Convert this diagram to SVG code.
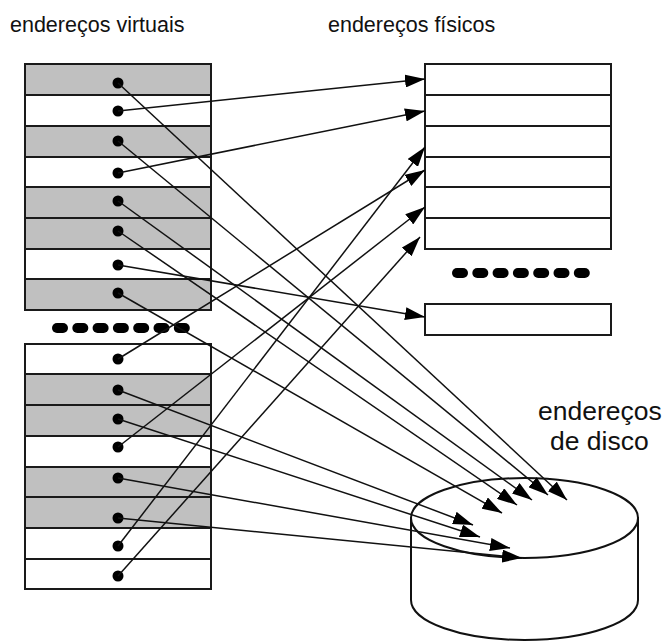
<svg xmlns="http://www.w3.org/2000/svg" width="666" height="641" viewBox="0 0 666 641">
<style>
.title{font-family:"Liberation Sans",Arial,sans-serif;font-size:21.5px;fill:#111}
.disklbl{font-family:"Liberation Sans",Arial,sans-serif;font-size:26.5px;fill:#111}
.cell{stroke:#1a1a1a;stroke-width:2}
.g{fill:#c0c0c0}
.w{fill:#fff}
.dot{fill:#000}
.dash{fill:#000}
.conn line{stroke:#111;stroke-width:1.5;marker-end:url(#ah)}
.disk{fill:#fff;stroke:#111;stroke-width:2}
</style>
<defs>
<marker id="ah" markerUnits="userSpaceOnUse" markerWidth="20" markerHeight="13" refX="20" refY="6.5" orient="auto">
<path d="M0,0 L20,6.5 L0,13 z" fill="#000"/>
</marker>
<g id="dashes">
<rect x="0" y="-5" width="16" height="10" rx="5"/>
<rect x="20.3" y="-5" width="16" height="10" rx="5"/>
<rect x="40.6" y="-5" width="16" height="10" rx="5"/>
<rect x="60.9" y="-5" width="16" height="10" rx="5"/>
<rect x="81.2" y="-5" width="16" height="10" rx="5"/>
<rect x="101.5" y="-5" width="16" height="10" rx="5"/>
<rect x="121.8" y="-5" width="16" height="10" rx="5"/>
</g>
</defs>
<rect width="666" height="641" fill="#fff"/>
<text class="title" x="10" y="32">endereços virtuais</text>
<text class="title" x="328" y="32">endereços físicos</text>

<g id="virtual-top">
<rect class="cell g" x="25" y="64" width="186" height="31"/>
<rect class="cell w" x="25" y="95" width="186" height="31"/>
<rect class="cell g" x="25" y="126" width="186" height="31"/>
<rect class="cell w" x="25" y="157" width="186" height="30"/>
<rect class="cell g" x="25" y="187" width="186" height="31"/>
<rect class="cell g" x="25" y="218" width="186" height="31"/>
<rect class="cell w" x="25" y="249" width="186" height="30"/>
<rect class="cell g" x="25" y="279" width="186" height="31"/>
<circle class="dot" cx="118" cy="83" r="5.5"/>
<circle class="dot" cx="118" cy="111" r="5.5"/>
<circle class="dot" cx="118" cy="141" r="5.5"/>
<circle class="dot" cx="118" cy="173" r="5.5"/>
<circle class="dot" cx="118" cy="201" r="5.5"/>
<circle class="dot" cx="118" cy="231" r="5.5"/>
<circle class="dot" cx="118" cy="265" r="5.5"/>
<circle class="dot" cx="118" cy="293" r="5.5"/>
</g>

<g id="virtual-dots" class="dash"><use href="#dashes" x="52" y="328"/></g>

<g id="virtual-bottom">
<rect class="cell w" x="25" y="344" width="186" height="30"/>
<rect class="cell g" x="25" y="374" width="186" height="31"/>
<rect class="cell g" x="25" y="405" width="186" height="31"/>
<rect class="cell w" x="25" y="436" width="186" height="31"/>
<rect class="cell g" x="25" y="467" width="186" height="30"/>
<rect class="cell g" x="25" y="497" width="186" height="31"/>
<rect class="cell w" x="25" y="528" width="186" height="31"/>
<rect class="cell w" x="25" y="559" width="186" height="30"/>
<circle class="dot" cx="118" cy="359" r="5.5"/>
<circle class="dot" cx="118" cy="390" r="5.5"/>
<circle class="dot" cx="118" cy="419" r="5.5"/>
<circle class="dot" cx="118" cy="447" r="5.5"/>
<circle class="dot" cx="118" cy="478" r="5.5"/>
<circle class="dot" cx="118" cy="518" r="5.5"/>
<circle class="dot" cx="118" cy="546" r="5.5"/>
<circle class="dot" cx="118" cy="576" r="5.5"/>
</g>

<g id="physical">
<rect class="cell w" x="425" y="64" width="186" height="31"/>
<rect class="cell w" x="425" y="95" width="186" height="31"/>
<rect class="cell w" x="425" y="126" width="186" height="31"/>
<rect class="cell w" x="425" y="157" width="186" height="30"/>
<rect class="cell w" x="425" y="187" width="186" height="31"/>
<rect class="cell w" x="425" y="218" width="186" height="31"/>
</g>
<g id="physical-dots" class="dash"><use href="#dashes" x="452" y="273"/></g>
<g id="physical-last">
<rect class="cell w" x="425" y="304" width="186" height="31"/>
</g>

<g id="disk">
<path class="disk" d="M411,518 L411,600 A113.5,40 0 0 0 638,600 L638,518 Z"/>
<ellipse class="disk" cx="524.5" cy="518" rx="113.5" ry="40"/>
<text class="disklbl" x="538" y="420">endereços</text>
<text class="disklbl" x="550" y="450">de disco</text>
</g>

<g id="connectors" class="conn">
<line x1="118" y1="111" x2="425" y2="79"/>
<line x1="118" y1="173" x2="425" y2="111"/>
<line x1="118" y1="265" x2="425" y2="317"/>
<line x1="118" y1="359" x2="425" y2="170"/>
<line x1="118" y1="447" x2="425" y2="207"/>
<line x1="118" y1="546" x2="425" y2="147"/>
<line x1="118" y1="576" x2="420" y2="237"/>
<line x1="118" y1="83" x2="567" y2="500"/>
<line x1="118" y1="141" x2="548" y2="495"/>
<line x1="118" y1="201" x2="532" y2="500"/>
<line x1="118" y1="231" x2="517" y2="505"/>
<line x1="118" y1="293" x2="502" y2="513"/>
<line x1="118" y1="390" x2="473" y2="525"/>
<line x1="118" y1="419" x2="480" y2="537"/>
<line x1="118" y1="478" x2="510" y2="548"/>
<line x1="118" y1="518" x2="522" y2="558"/>
</g>
</svg>
